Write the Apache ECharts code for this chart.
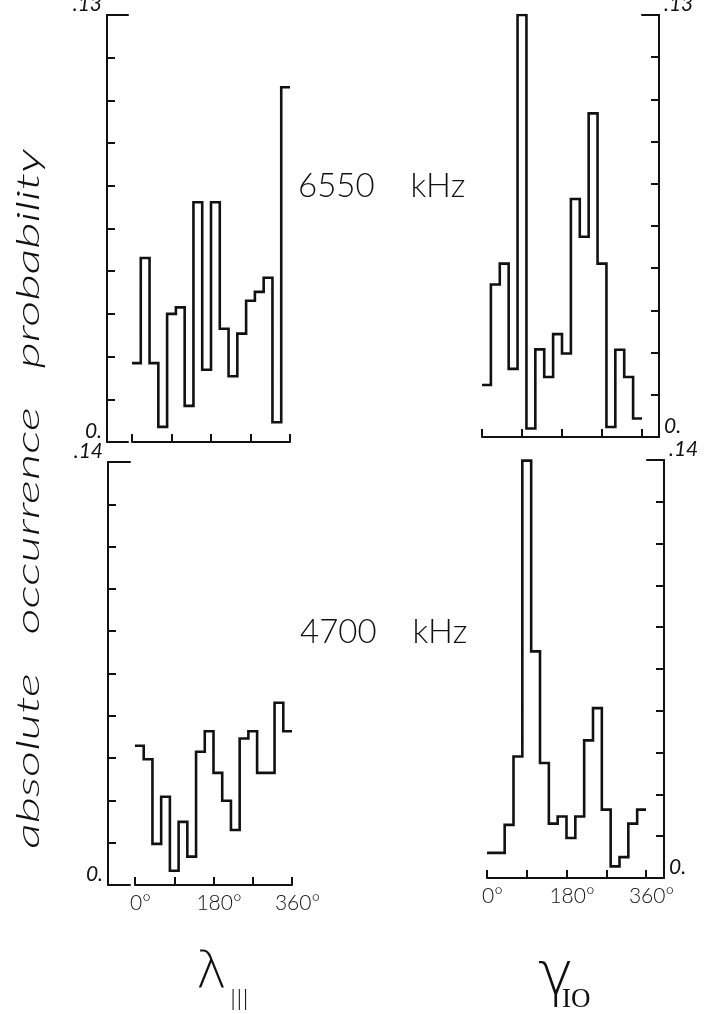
<!DOCTYPE html>
<html><head><meta charset="utf-8">
<script src="https://cdn.jsdelivr.net/npm/echarts@6/dist/echarts.min.js"></script>
<style>html,body{margin:0;padding:0;background:#fff}#c{width:706px;height:1014px}</style>
</head><body><div id="c"></div>
<script>
// 18 bins of 20 degrees each
const binEdges = [0,20,40,60,80,100,120,140,160,180,200,220,240,260,280,300,320,340,360];
const xTickLabels = {0:'0°', 180:'180°', 360:'360°'};
const yLabels6550 = ['0.', '.13'];
const yLabels4700 = ['0.', '.14'];
const yMax6550 = 0.13;
const yMax4700 = 0.14;

// 6550 kHz, lambda III
const lam6550 = [0.024,0.056,0.024,0.0046,0.039,0.041,0.011,0.073,0.022,0.073,0.0345,0.020,0.033,0.043,0.0457,0.050,0.006,0.108];
// 6550 kHz, gamma Io
const io6550 = [0.016,0.047,0.0534,0.021,0.130,0.0026,0.027,0.0185,0.0317,0.0257,0.0733,0.0617,0.0997,0.0534,0.0031,0.0269,0.0185,0.0057];
// 4700 kHz, lambda III
const lam4700 = [0.0461,0.0416,0.0136,0.0292,0.0047,0.0209,0.0094,0.0441,0.0509,0.0371,0.0279,0.0182,0.0485,0.0509,0.0371,0.0371,0.0603,0.0509];
// 4700 kHz, gamma Io
const io4700 = [0.0084,0.0084,0.0178,0.0407,0.1398,0.0759,0.0385,0.0182,0.0206,0.0134,0.0206,0.0461,0.0569,0.0229,0.0039,0.0070,0.0182,0.0229];

const FONT = 'Lato';
const INK = '#111';

function stepData(vals){
  const d = vals.map((v,i)=>[binEdges[i], v]);
  d.push([binEdges[vals.length], vals[vals.length-1]]);
  return d;
}

const panels = [
  {main:{left:132,top:15,width:158,height:427}, br:{left:107,top:15,width:21,height:427}, side:'left', max:yMax6550, labels:yLabels6550, showX:false, vals:lam6550},
  {main:{left:482,top:15,width:160,height:422}, br:{left:642,top:15,width:17,height:422}, side:'right', max:yMax6550, labels:yLabels6550, showX:false, vals:io6550},
  {main:{left:135,top:462,width:157,height:423}, br:{left:108,top:462,width:22,height:423}, side:'left', max:yMax4700, labels:yLabels4700, showX:true, vals:lam4700},
  {main:{left:487,top:460,width:159,height:418}, br:{left:647,top:460,width:17,height:418}, side:'right', max:yMax4700, labels:yLabels4700, showX:true, vals:io4700}
];

const grid=[], xAxis=[], yAxis=[], series=[];
panels.forEach((p)=>{
  const gMain = grid.length;
  grid.push(Object.assign({outerBoundsMode:'none', containLabel:false}, p.main));
  const gBr = grid.length;
  grid.push(Object.assign({outerBoundsMode:'none', containLabel:false}, p.br));
  const xiMain = xAxis.length;
  xAxis.push({
    type:'value', gridIndex:gMain, min:0, max:360, interval:90, position:'bottom',
    axisLine:{show:true, onZero:false, lineStyle:{color:INK, width:2}},
    axisTick:{show:true, inside:true, length:8, lineStyle:{color:INK, width:2}},
    splitLine:{show:false},
    axisLabel:{show:p.showX, margin:8, color:INK, fontFamily:FONT, fontWeight:300, fontSize:21,
      padding:[0,0,0,11], showMinLabel:true, showMaxLabel:true,
      formatter:(v)=> xTickLabels[Math.round(v)] || ''}
  });
  const yiMain = yAxis.length;
  yAxis.push({type:'value', gridIndex:gMain, min:0, max:p.max, show:false});
  xAxis.push({type:'value', gridIndex:gBr, min:0, max:1, position:'bottom',
    axisLine:{show:true, onZero:false, lineStyle:{color:INK, width:2}}, axisTick:{show:false}, axisLabel:{show:false}, splitLine:{show:false}});
  xAxis.push({type:'value', gridIndex:gBr, min:0, max:1, position:'top',
    axisLine:{show:true, onZero:false, lineStyle:{color:INK, width:2}}, axisTick:{show:false}, axisLabel:{show:false}, splitLine:{show:false}});
  yAxis.push({type:'value', gridIndex:gBr, min:0, max:p.max, interval:p.max/10, position:p.side,
    axisLine:{show:true, onZero:false, lineStyle:{color:INK, width:2}},
    axisTick:{show:true, inside:true, length:8, lineStyle:{color:INK, width:2}},
    splitLine:{show:false},
    axisLabel:{show:true, margin:5, color:INK, fontFamily:FONT, fontStyle:'italic', fontSize:21,
      verticalAlign:'bottom', showMinLabel:true, showMaxLabel:true,
      formatter:(v)=> v===0 ? p.labels[0] : (Math.abs(v-p.max)<1e-9 ? p.labels[1] : '')}
  });
  series.push({type:'line', xAxisIndex:xiMain, yAxisIndex:yiMain, step:'end', symbol:'none',
    silent:true, animation:false,
    lineStyle:{color:INK, width:2.6, join:'miter'}, data:stepData(p.vals)});
});

const chart = echarts.init(document.getElementById('c'), null, {renderer:'canvas'});
chart.setOption({
  backgroundColor:'#fff',
  animation:false,
  grid, xAxis, yAxis, series,
  graphic:[
    {type:'text', x:29, y:499, rotation:Math.PI/2, scaleX:1.7, scaleY:1.05,
      style:{text:'absolute   occurrence   probability', fill:INK, fontFamily:FONT, fontStyle:'italic', fontWeight:300, fontSize:30, align:'center', verticalAlign:'middle'}},
    {type:'text', x:298, y:186, style:{text:'6550    kHz', fill:INK, fontFamily:FONT, fontWeight:300, fontSize:33, align:'left', verticalAlign:'middle'}},
    {type:'text', x:300, y:632, style:{text:'4700    kHz', fill:INK, fontFamily:FONT, fontWeight:300, fontSize:33, align:'left', verticalAlign:'middle'}},
    {type:'text', x:196, y:974, style:{text:'λ', fill:INK, fontFamily:'DejaVu Sans', fontWeight:200, fontSize:52, align:'left', verticalAlign:'middle'}},
    {type:'text', x:230, y:1003, scaleX:0.75, style:{text:'III', fill:INK, fontFamily:'DejaVu Sans', fontWeight:200, fontSize:28, align:'left', verticalAlign:'middle'}},
    {type:'text', x:538, y:978, style:{text:'γ', fill:INK, fontFamily:'DejaVu Sans', fontWeight:200, fontSize:60, align:'left', verticalAlign:'middle'}},
    {type:'text', x:562, y:1000, style:{text:'IO', fill:INK, fontFamily:'Liberation Serif', fontSize:27, align:'left', verticalAlign:'middle'}}
  ]
});
</script></body></html>
